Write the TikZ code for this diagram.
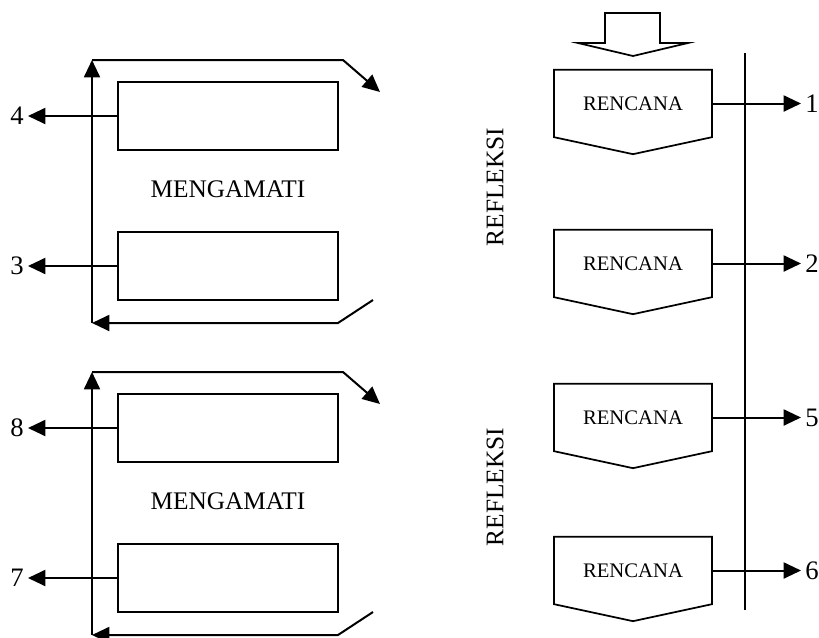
\documentclass[tikz,border=0pt]{standalone}
\usepackage{fontspec}
\setmainfont{Liberation Serif}
\usetikzlibrary{arrows.meta,calc}

\begin{document}
\begin{tikzpicture}[x=0.75pt,y=-0.75pt,line width=1.5pt,
    >={Triangle[length=13pt,width=12pt]},
    box/.style={draw,line width=1.3pt,minimum width=165pt,minimum height=51pt,inner sep=0pt},
    plan/.style={minimum width=117pt,minimum height=49pt,inner sep=0pt,font=\fontsize{15.5}{18}\selectfont},
    num/.style={inner sep=2.5pt,font=\fontsize{20}{24}\selectfont},
    word/.style={font=\fontsize{19}{22}\selectfont}]
    \useasboundingbox (0,0) rectangle (819,637);
        % Two observation blocks on the left
        \foreach \k/\y/\na/\nb in {0/0/4/3,1/312/8/7} {
            \node[box] (obsA\k) at (228,116+\y) {};
            \node[box] (obsB\k) at (228,266+\y) {};
            \node[word] (see\k) at (228,189+\y) {MENGAMATI};
            \node[num] (n\na) at (17,116+\y) {\na};
            \node[num] (n\nb) at (17,266+\y) {\nb};
            \draw[->] (obsA\k.west) -- (n\na.east);
            \draw[->] (obsB\k.west) -- (n\nb.east);
            % loop round the boxes
            \coordinate (tl\k) at (92,60+\y);
            \coordinate (bl\k) at (92,323+\y);
            \coordinate (tr\k) at (343,60+\y);
            \coordinate (te\k) at (380,92+\y);
            \coordinate (br\k) at (338,323+\y);
            \coordinate (bs\k) at (373,300+\y);
            \draw[->] (bl\k) -- (tl\k);
            \draw[->] (tl\k) -- (tr\k) -- (te\k);
            \draw[->] (bs\k) -- (br\k) -- (bl\k);
        }
        % Open arrow into the first plan
        \coordinate (in) at (633,43);
        \draw[line width=1.3pt] ($(in)+(-28,0)$) -- ($(in)+(-28,-30)$) -- ($(in)+(27,-30)$)
            -- ($(in)+(27,0)$) -- ($(in)+(55,0)$) -- ($(in)+(0,13)$) -- ($(in)+(-55,0)$) -- cycle;
        % Plan boxes on the right
        \foreach \i/\y/\lab in {1/103.5/1,2/263.5/2,3/417.5/5,4/570.5/6} {
            \node[plan] (plan\i) at (633,\y) {RENCANA};
            \draw[line width=1.3pt] (plan\i.north west) -- (plan\i.north east) -- (plan\i.south east)
                -- ($(plan\i.south)+(0,17)$) -- (plan\i.south west) -- cycle;
            \node[num] (r\lab) at (812,\y) {\lab};
            \draw[->] (plan\i.east) -- (r\lab.west);
        }
        \coordinate (vt) at (745,53);
        \coordinate (vb) at (745,610);
        \draw (vt) -- (vb);
        \node[word,rotate=90] (ref1) at (495,187) {REFLEKSI};
        \node[word,rotate=90] (ref2) at (495,487) {REFLEKSI};
    \end{tikzpicture}
\end{document}
